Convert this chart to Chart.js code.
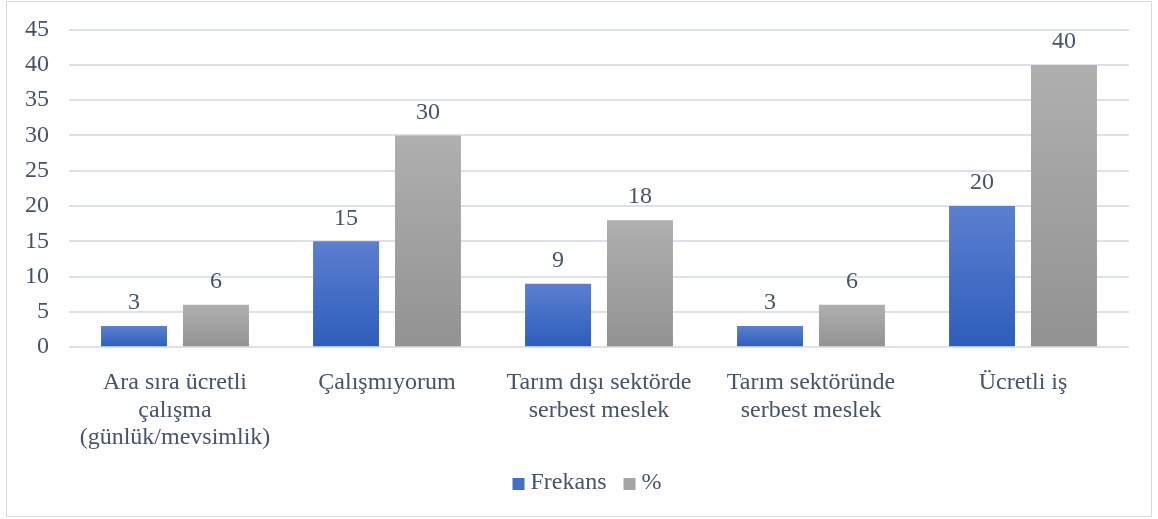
<!DOCTYPE html>
<html>
<head>
<meta charset="utf-8">
<script src="https://cdn.jsdelivr.net/npm/chart.js@4/dist/chart.umd.min.js"></script>
<style>
html,body{margin:0;padding:0;background:#fff;}
#wrap{position:relative;width:1158px;height:519px;}
#frame{position:absolute;left:6px;top:1px;width:1144px;height:514px;border:1px solid #d9d9d9;pointer-events:none;}
</style>
</head>
<body>
<div id="wrap"><canvas id="c" width="1158" height="519"></canvas><div id="frame"></div></div>
<script>
const categories = [
  ["Ara sıra ücretli", "çalışma", "(günlük/mevsimlik)"],
  ["Çalışmıyorum"],
  ["Tarım dışı sektörde", "serbest meslek"],
  ["Tarım sektöründe", "serbest meslek"],
  ["Ücretli iş"]
];
const frekans = [3, 15, 9, 3, 20];
const yuzde = [6, 30, 18, 6, 40];
const seriesNames = ["Frekans", "%"];

const FONT = "'Liberation Serif', 'Times New Roman', serif";
const TEXT = "#44546a";
const FS = 24;
const LEGEND_COLORS = ['#4470c4', '#a5a5a5'];

function gradFill(top, bottom, fallback) {
  return function(ctx) {
    const chart = ctx.chart;
    const y = chart.scales && chart.scales.y;
    if (!y || ctx.type !== 'data' || !chart.chartArea) return fallback;
    const v = ctx.parsed ? ctx.parsed.y : ctx.raw;
    const yt = y.getPixelForValue(v), yb = y.getPixelForValue(0);
    if (!isFinite(yt) || !isFinite(yb) || yt === yb) return fallback;
    const g = chart.ctx.createLinearGradient(0, yt, 0, yb);
    g.addColorStop(0, top);
    g.addColorStop(1, bottom);
    return g;
  };
}

const valueLabels = {
  id: 'valueLabels',
  afterDatasetsDraw(chart) {
    const ctx = chart.ctx;
    ctx.save();
    ctx.font = FS + "px " + FONT;
    ctx.fillStyle = TEXT;
    ctx.textAlign = 'center';
    ctx.textBaseline = 'middle';
    chart.data.datasets.forEach((ds, i) => {
      const meta = chart.getDatasetMeta(i);
      meta.data.forEach((bar, j) => {
        ctx.fillText(String(ds.data[j]), bar.x, bar.y - 23);
      });
    });
    ctx.restore();
  }
};

// Compact bottom legend (Office style: small square, tight text gap)
const compactLegend = {
  id: 'compactLegend',
  afterDraw(chart) {
    const ctx = chart.ctx;
    ctx.save();
    ctx.font = FS + "px " + FONT;
    ctx.textBaseline = 'middle';
    ctx.textAlign = 'left';
    const box = 12, gapText = 6, gapItem = 17;
    const items = chart.data.datasets.map((ds, i) => ({
      text: ds.label, color: LEGEND_COLORS[i], w: ctx.measureText(ds.label).width
    }));
    const total = items.reduce((s, it) => s + box + gapText + it.w, 0) + gapItem * (items.length - 1);
    let x = chart.width / 2 + 8 - total / 2;
    const yc = chart.height - 36;
    items.forEach(it => {
      ctx.fillStyle = it.color;
      ctx.fillRect(x, yc - box / 2 + 1, box, box);
      x += box + gapText;
      ctx.fillStyle = TEXT;
      ctx.fillText(it.text, x, yc);
      x += it.w + gapItem;
    });
    ctx.restore();
  }
};

new Chart(document.getElementById('c'), {
  type: 'bar',
  data: {
    labels: categories,
    datasets: [
      { label: seriesNames[0], data: frekans,
        backgroundColor: gradFill('#5b7fd0', '#2d5ebb', LEGEND_COLORS[0]) },
      { label: seriesNames[1], data: yuzde,
        backgroundColor: gradFill('#afafaf', '#929292', LEGEND_COLORS[1]) }
    ]
  },
  options: {
    responsive: false,
    animation: false,
    devicePixelRatio: 1,
    layout: { padding: { top: 0, right: 29, left: 5, bottom: 45 } },
    datasets: { bar: { categoryPercentage: 0.773, barPercentage: 0.805 } },
    plugins: {
      legend: { display: false },
      tooltip: { enabled: false }
    },
    scales: {
      x: {
        grid: { display: false, drawTicks: false },
        border: { display: false },
        ticks: { font: { family: FONT, size: FS, lineHeight: 1.15 }, color: TEXT, padding: 22, maxRotation: 0, autoSkip: false }
      },
      y: {
        min: 0, max: 45,
        grid: { color: '#dde2ea', lineWidth: 2, drawTicks: false },
        border: { display: false },
        ticks: { stepSize: 5, font: { family: FONT, size: FS, lineHeight: 0.8 }, color: TEXT, padding: 20 }
      }
    }
  },
  plugins: [valueLabels, compactLegend]
});
</script>
</body>
</html>
